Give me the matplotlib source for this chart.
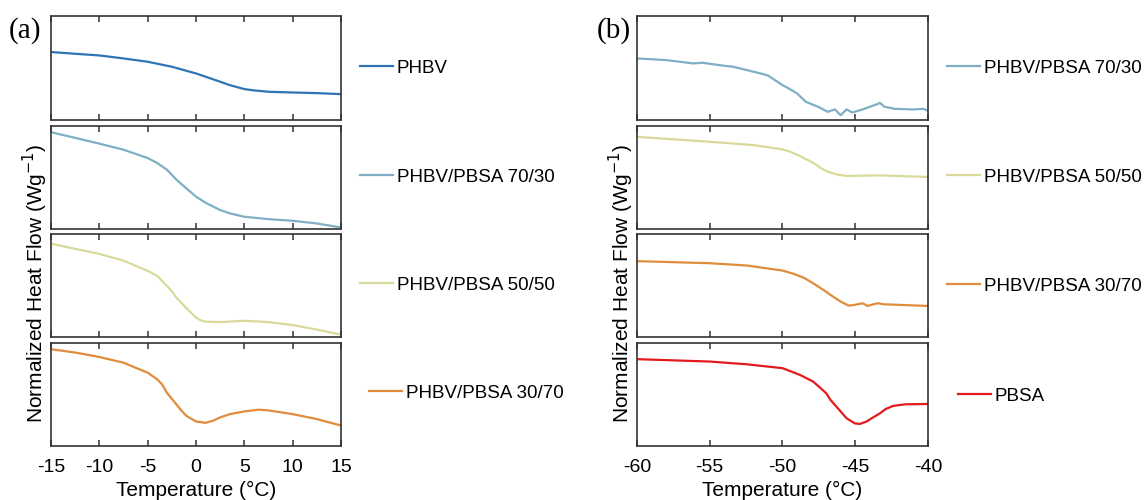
import matplotlib
matplotlib.use("Agg")
import matplotlib.pyplot as plt

plt.rcParams['font.family'] = ['Liberation Sans', 'DejaVu Sans']
plt.rcParams['axes.unicode_minus'] = False

# ---------------- data (normalized to each panel, 0 = bottom, 1 = top) -------------
# Panel (a): -15 .. 15 °C
a_labels = ["PHBV", "PHBV/PBSA 70/30", "PHBV/PBSA 50/50", "PHBV/PBSA 30/70"]
a_colors = ["#2f74b5", "#7eafc5", "#d9d99b", "#e08c3b"]

phbv_T = [-15, -12.5, -10, -7.5, -5, -2.5, -1, 0, 1, 2.5, 3.5, 5, 6, 7.5, 10, 12.5, 15]
phbv_y = [0.652, 0.635, 0.619, 0.59, 0.558, 0.51, 0.471, 0.445, 0.413, 0.365, 0.332, 0.294, 0.281,
          0.268, 0.261, 0.255, 0.245]

a7030_T = [-15, -12.5, -10, -7.5, -5, -4, -3, -2.5, -2, -1, 0, 1, 2.5, 3.5, 5, 7.5, 10, 12.5, 15]
a7030_y = [0.935, 0.88, 0.824, 0.765, 0.684, 0.635, 0.57, 0.521, 0.472, 0.39, 0.309, 0.25, 0.179,
           0.147, 0.114, 0.091, 0.075, 0.049, 0.01]

a5050_T = [-15, -12.5, -10, -7.5, -5, -4, -3.5, -2.5, -2, -1, 0, 0.5, 1, 2.5, 5, 7.5, 10, 12.5, 15]
a5050_y = [0.902, 0.852, 0.803, 0.738, 0.639, 0.59, 0.541, 0.443, 0.377, 0.279, 0.187, 0.161, 0.148,
           0.144, 0.157, 0.144, 0.115, 0.072, 0.023]

a3070_T = [-15, -12.5, -10, -7.5, -5, -4, -3.5, -3, -2, -1.5, -1, 0, 0.5, 1, 1.75, 2.5, 3.5, 5, 6.5,
           7.5, 10, 12.5, 15]
a3070_y = [0.935, 0.903, 0.86, 0.805, 0.708, 0.643, 0.594, 0.513, 0.399, 0.341, 0.292, 0.237, 0.23,
           0.224, 0.244, 0.276, 0.308, 0.334, 0.351, 0.344, 0.308, 0.26, 0.198]

# Panel (b): -60 .. -40 °C
b_labels = ["PHBV/PBSA 70/30", "PHBV/PBSA 50/50", "PHBV/PBSA 30/70", "PBSA"]
b_colors = ["#7eafc5", "#d9d99b", "#e08c3b", "#e41a1c"]

b7030_T = [-60, -58, -56.15, -55.5, -54, -53.4, -51.5, -51.0, -50, -49.7, -49, -48.4, -47.5, -46.9,
           -46.4, -46.0, -45.6, -45.2, -44.5, -43.5, -43.3, -43.0, -42.7, -42.3, -41, -40.3, -40]
b7030_y = [0.59, 0.574, 0.542, 0.548, 0.519, 0.51, 0.445, 0.425, 0.332, 0.31, 0.252, 0.171, 0.12, 0.074,
           0.097, 0.042, 0.097, 0.068, 0.097, 0.148, 0.161, 0.123, 0.115, 0.103, 0.097, 0.103, 0.084]

b5050_T = [-60, -55, -52, -50, -49.4, -48.8, -47.9, -47.4, -46.9, -46.3, -45.6, -43.3, -40]
b5050_y = [0.89, 0.842, 0.81, 0.768, 0.742, 0.703, 0.639, 0.59, 0.552, 0.526, 0.51, 0.516, 0.5]

b3070_T = [-60, -55, -52.4, -50, -49.2, -48.5, -47.8, -47.2, -46.6, -46, -45.45, -45.1, -44.5, -44.15,
           -43.75, -43.45, -43.05, -40]
b3070_y = [0.733, 0.713, 0.69, 0.642, 0.609, 0.57, 0.511, 0.456, 0.397, 0.342, 0.303, 0.309, 0.326,
           0.30, 0.316, 0.326, 0.316, 0.30]

pbsa_T = [-60, -55, -52.5, -50, -48.8, -47.9, -47.5, -47, -46.7, -46.3, -45.9, -45.6, -45.3, -45.04,
          -44.7, -44.24, -43.8, -43.3, -42.9, -42.4, -41.9, -41.5, -40]
pbsa_y = [0.839, 0.816, 0.79, 0.752, 0.687, 0.623, 0.574, 0.51, 0.445, 0.381, 0.316, 0.268, 0.242,
          0.219, 0.213, 0.235, 0.274, 0.316, 0.358, 0.387, 0.397, 0.403, 0.406]

a_series = [(phbv_T, phbv_y), (a7030_T, a7030_y), (a5050_T, a5050_y), (a3070_T, a3070_y)]
b_series = [(b7030_T, b7030_y), (b5050_T, b5050_y), (b3070_T, b3070_y), (pbsa_T, pbsa_y)]

a_ticks = [-15, -10, -5, 0, 5, 10, 15]
b_ticks = [-60, -55, -50, -45, -40]

# ---------------- layout (pixels) ----------------
W, H = 1144, 500
fig = plt.figure(figsize=(W / 100, H / 100), dpi=100)

rows = [(16, 119.5), (125.5, 228.5), (233.5, 337), (342.5, 446)]
groups = [
    dict(x0=51, x1=341, series=a_series, labels=a_labels, colors=a_colors,
         xlim=(-15, 15), ticks=a_ticks,
         leg=[(360, 68), (360, 177), (360, 285), (369, 393)], tag="(a)", tagx=9, ylx=35),
    dict(x0=637, x1=928, series=b_series, labels=b_labels, colors=b_colors,
         xlim=(-60, -40), ticks=b_ticks,
         leg=[(947, 68), (947, 177), (947, 286), (958, 396)], tag="(b)", tagx=597, ylx=621),
]

frame_col = "#333333"
for g in groups:
    for i, (top, bot) in enumerate(rows):
        ax = fig.add_axes([g["x0"] / W, 1 - bot / H, (g["x1"] - g["x0"]) / W, (bot - top) / H])
        T, y = g["series"][i]
        ax.plot(T, y, color=g["colors"][i], lw=1.6, label=g["labels"][i], solid_joinstyle='round')
        ax.set_xlim(*g["xlim"])
        ax.set_ylim(0, 1)
        ax.set_yticks([])
        ax.set_xticks(g["ticks"])
        ax.tick_params(axis='x', direction='in', top=True, bottom=True, length=4, width=1.1,
                       color=frame_col, labelsize=14, pad=9, labelbottom=(i == 3))
        for s in ax.spines.values():
            s.set_color(frame_col)
            s.set_linewidth(1.2)
        if i == 3:
            ax.set_xlabel("Temperature (°C)", fontsize=15, labelpad=4)
        lx, ly = g["leg"][i]
        ax.legend(loc='center left', bbox_to_anchor=(lx / W, 1 - ly / H),
                  bbox_transform=fig.transFigure, frameon=False, borderpad=0,
                  borderaxespad=0, handlelength=1.75, handletextpad=0.22, fontsize=13.5)
    fig.text(g["tagx"] / W, 1 - 31 / H, g["tag"], family='Liberation Serif', fontsize=21,
             ha='left', va='center')
    fig.text(g["ylx"] / W, 1 - 283 / H, "Normalized Heat Flow (Wg$^{-1}$)", rotation=90,
             fontsize=15, ha='center', va='center')

fig.savefig("out.png", dpi=100)
